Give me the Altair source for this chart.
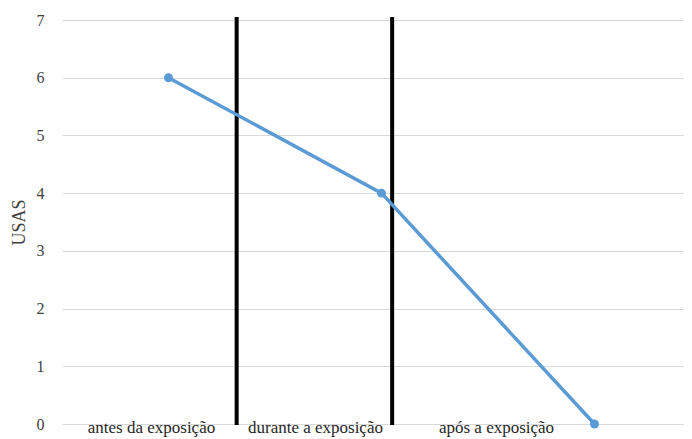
import altair as alt
import pandas as pd

# ---- data ----
categories = ["antes da exposição", "durante a exposição", "após a exposição"]
usas = [6, 4, 0]
# position of each point on the category axis (centre of each category band)
point_pos = [0.5, 1.5, 2.5]
# positions of the category captions and of the black dividers (category units)
label_pos = [0.42, 1.19, 2.04]
divider_pos = [0.82, 1.55]
y_ticks = [0, 1, 2, 3, 4, 5, 6, 7]

points_df = pd.DataFrame({"cat": categories, "pos": point_pos, "usas": usas})
labels_df = pd.DataFrame({"cat": categories, "pos": label_pos, "usas": [0] * 3})
div_df = pd.DataFrame({"pos": divider_pos, "usas": [7] * 2, "bottom": [0] * 2})

W, H = 622, 404
FONT = "Liberation Serif"

xscale = alt.Scale(domain=[0, W / 213], nice=False, zero=False)
yscale = alt.Scale(domain=[0, 7], nice=False)

yaxis = alt.Axis(
    values=y_ticks,
    title="USAS",
    grid=True,
    gridColor="#d9d9d9",
    gridWidth=1,
    domain=False,
    ticks=False,
    labelPadding=18,
    labelFont=FONT,
    labelFontSize=16,
    labelColor="#404040",
    titleFont=FONT,
    titleFontSize=18,
    titleFontWeight="normal",
    titleColor="#404040",
    titlePadding=8,
)

base = alt.Chart(points_df).encode(
    x=alt.X("pos:Q", scale=xscale, axis=None),
    y=alt.Y("usas:Q", scale=yscale, axis=yaxis),
)
line = base.mark_line(color="#5B9BD5", strokeWidth=3.5)
pts = base.mark_circle(color="#5B9BD5", size=80, opacity=1)

dividers = alt.Chart(div_df).mark_rule(color="black", strokeWidth=4, yOffset=-3, y2Offset=1).encode(
    x=alt.X("pos:Q", scale=xscale, axis=None),
    y=alt.Y("usas:Q", scale=yscale, axis=yaxis),
    y2="bottom:Q",
)

labels = alt.Chart(labels_df).mark_text(
    font=FONT, fontSize=17, color="#262626", baseline="alphabetic", align="center", dy=9
).encode(
    x=alt.X("pos:Q", scale=xscale, axis=None),
    y=alt.Y("usas:Q", scale=yscale, axis=yaxis),
    text="cat:N",
)

chart = (
    alt.layer(dividers, line, pts, labels)
    .properties(
        width=W,
        height=H,
        autosize=alt.AutoSizeParams(type="none"),
        padding={"left": 54, "top": 12, "right": 0, "bottom": 15},
        background="white",
    )
    .configure_view(stroke=None)
)

chart.save("out.html", embed_options={"renderer": "svg", "actions": False})
